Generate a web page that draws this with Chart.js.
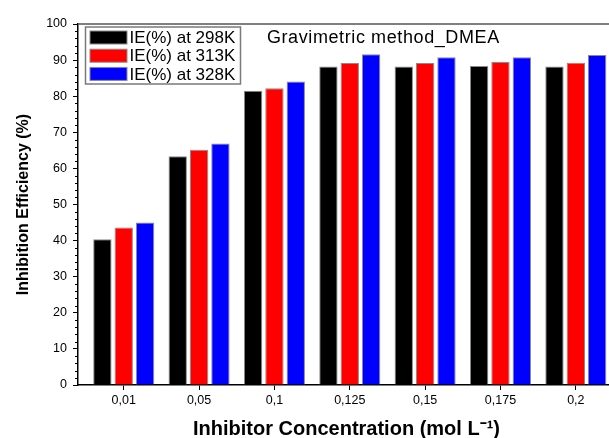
<!DOCTYPE html>
<html>
<head>
<meta charset="utf-8">
<script src="https://cdn.jsdelivr.net/npm/chart.js@4/dist/chart.umd.min.js"></script>
<style>
  html, body { margin: 0; padding: 0; background: #fff; overflow: hidden; width: 609px; height: 438px; }
  #wrap { width: 609px; height: 438px; position: relative; overflow: hidden; }
  #c { display: block; position: absolute; left: 0; top: 0; }
</style>
</head>
<body>
<div id="wrap"><canvas id="c" width="640" height="438"></canvas></div>
<script>
// ---- data ----
const categories = ['0,01', '0,05', '0,1', '0,125', '0,15', '0,175', '0,2'];
const seriesNames = ['IE(%) at 298K', 'IE(%) at 313K', 'IE(%) at 328K'];
const ie298 = [40.4, 63.4, 81.5, 88.2, 88.2, 88.4, 88.2];
const ie313 = [43.6, 65.2, 82.2, 89.2, 89.2, 89.5, 89.3];
const ie328 = [45.0, 66.9, 84.1, 91.6, 90.8, 90.8, 91.4];
const yTickValues = [0, 10, 20, 30, 40, 50, 60, 70, 80, 90, 100];
const annotationText = 'Gravimetric method_DMEA';
const xTitle = 'Inhibitor Concentration (mol L\u207B\u00B9)';
const yTitle = 'Inhibition Efficiency (%)';

const colors = ['#000000', '#ff0000', '#0000ff'];
const FONT = "'Liberation Sans', Arial, sans-serif";

function toPoints(arr) { return arr.map((v, i) => ({ x: i, y: v })); }

const seriesValues = [ie298, ie313, ie328];
const datasets = seriesValues.map((vals, k) => ({
  label: seriesNames[k],
  data: toPoints(vals),
  backgroundColor: colors[k],
  borderColor: '#8a8a8a',
  borderWidth: 1,
  categoryPercentage: 0.85,
  barPercentage: 0.86
}));

// frame, minor ticks, legend box and annotation
const decor = {
  id: 'decor',
  afterDraw(chart) {
    const { ctx, chartArea: a, scales: { x, y } } = chart;
    ctx.save();
    // top frame line
    ctx.strokeStyle = '#555';
    ctx.lineWidth = 1.5;
    ctx.beginPath();
    ctx.moveTo(a.left, a.top);
    ctx.lineTo(a.right, a.top);
    ctx.stroke();
    // minor ticks on y
    ctx.strokeStyle = '#000';
    ctx.lineWidth = 1;
    for (let v = 0; v <= 100; v += 2) {
      if (v % 10 === 0) continue;
      const py = Math.round(y.getPixelForValue(v)) + 0.5;
      ctx.beginPath();
      ctx.moveTo(a.left - 3, py);
      ctx.lineTo(a.left, py);
      ctx.stroke();
    }
    // legend
    const lx = a.left + 7.5, ly = a.top + 3, lw = 155, lh = 57;
    ctx.strokeStyle = '#7a7a7a';
    ctx.lineWidth = 1.5;
    ctx.strokeRect(lx, ly, lw, lh);
    ctx.font = '17px ' + FONT;
    ctx.textBaseline = 'middle';
    ctx.textAlign = 'left';
    chart.data.datasets.forEach((ds, i) => {
      const cy = ly + 10.5 + i * 18.2;
      ctx.fillStyle = ds.backgroundColor;
      ctx.fillRect(lx + 4.5, cy - 6.5, 37, 13);
      ctx.strokeStyle = '#8a8a8a';
      ctx.lineWidth = 1;
      ctx.strokeRect(lx + 4.5, cy - 6.5, 37, 13);
      ctx.fillStyle = '#000';
      ctx.fillText(ds.label, lx + 44, cy + 1);
    });
    // annotation
    ctx.font = '18px ' + FONT;
    if ('letterSpacing' in ctx) ctx.letterSpacing = '0.6px';
    ctx.fillStyle = '#000';
    ctx.fillText(annotationText, x.getPixelForValue(1.9), y.getPixelForValue(96.0));
    ctx.restore();
  }
};

new Chart(document.getElementById('c'), {
  type: 'bar',
  data: { datasets },
  options: {
    responsive: false,
    animation: false,
    layout: { padding: { left: 0, top: 24, right: 25, bottom: 0 } },
    plugins: { legend: { display: false }, tooltip: { enabled: false } },
    scales: {
      x: {
        type: 'linear',
        offset: false,
        min: -0.607,
        max: 6.52,
        afterFit: (s) => { s.height = 53; },
        afterBuildTicks: (s) => { s.ticks = categories.map((c, i) => ({ value: i })); },
        ticks: {
          stepSize: 1,
          includeBounds: false,
          autoSkip: false,
          maxRotation: 0,
          padding: 3,
          color: '#000',
          font: { family: FONT, size: 12.5 },
          callback: (v) => categories[v] !== undefined ? categories[v] : ''
        },
        grid: { display: true, offset: false, drawOnChartArea: false, drawTicks: true, tickLength: 5, color: '#000', tickWidth: 1 },
        border: { display: true, color: '#000', width: 1.5 },
        title: {
          display: true, text: xTitle, color: '#000',
          font: { family: FONT, size: 20, weight: 'bold', lineHeight: 1 },
          padding: { top: 0, bottom: -1 }
        }
      },
      y: {
        min: 0,
        max: 100,
        afterFit: (s) => { s.width = 78; },
        afterBuildTicks: (s) => { s.ticks = yTickValues.map(v => ({ value: v })); },
        ticks: {
          stepSize: 10,
          padding: 6,
          color: '#000',
          font: { family: FONT, size: 12.5 }
        },
        grid: { display: true, drawOnChartArea: false, drawTicks: true, tickLength: 5, color: '#000', tickWidth: 1 },
        border: { display: true, color: '#000', width: 1.5 },
        title: {
          display: true, text: yTitle, color: '#000',
          font: { family: FONT, size: 16, weight: 'bold', lineHeight: 1 },
          padding: { top: 16, bottom: 0 }
        }
      }
    }
  },
  plugins: [decor]
});
</script>
</body>
</html>
